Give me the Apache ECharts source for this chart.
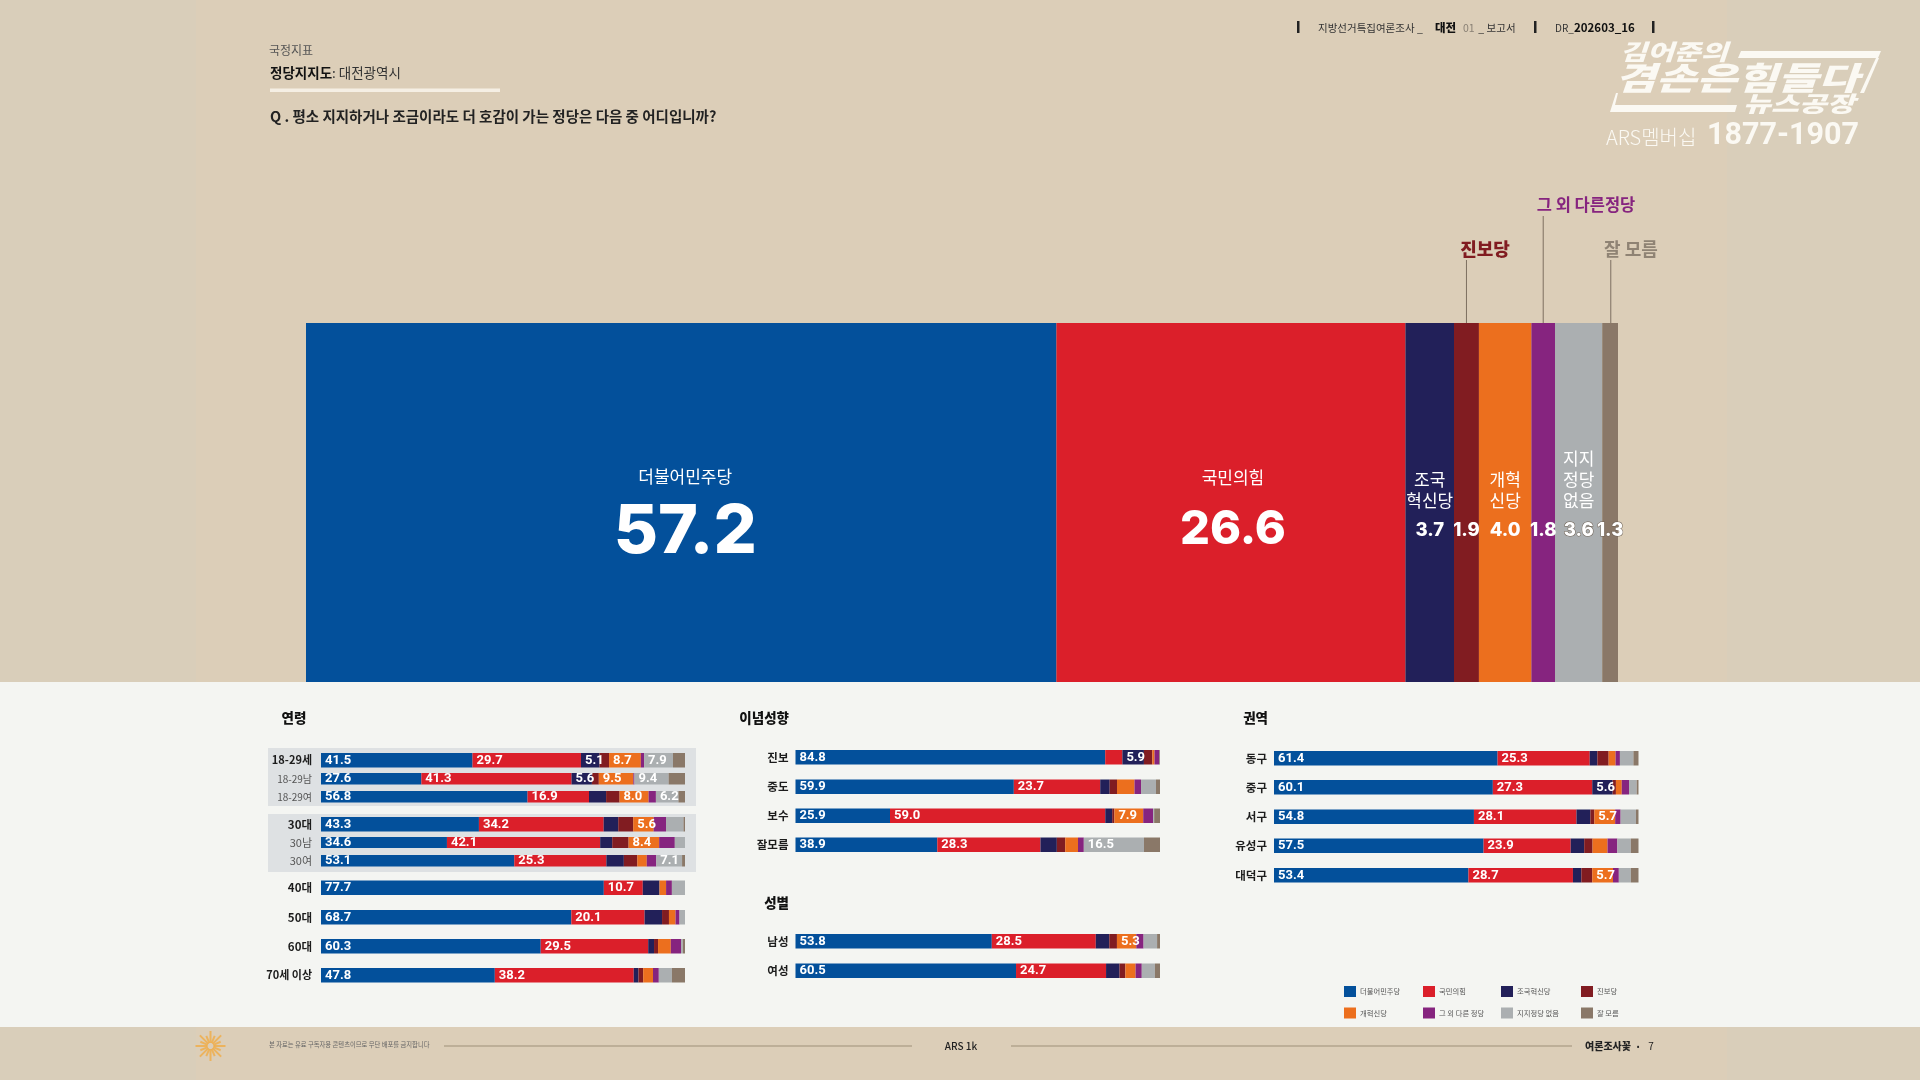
<!DOCTYPE html>
<html>
<head>
<meta charset="utf-8">
<script src="https://cdn.jsdelivr.net/npm/echarts@6/dist/echarts.min.js"></script>
<style>html,body{margin:0;padding:0;background:#DCCEB8}#c{width:1920px;height:1080px}</style>
</head>
<body>
<div id="c"></div>
<script>
// ---------- data ----------
const partyNames = ['더불어민주당','국민의힘','조국혁신당','진보당','개혁신당','그 외 다른 정당','지지정당 없음','잘 모름'];
const mainValues = [57.2,26.6,3.7,1.9,4.0,1.8,3.6,1.3];
const mainLabels = ['더불어민주당','국민의힘','조국\n혁신당','','개혁\n신당','','지지\n정당\n없음',''];

const ageCategories = ['18-29세','18-29남','18-29여','30대','30남','30여','40대','50대','60대','70세 이상'];
const ageValues = [
  [41.5,29.7,5.1,2.6,8.7,0.9,7.9,3.3],
  [27.6,41.3,5.6,1.9,9.5,0.3,9.4,4.5],
  [56.8,16.9,4.7,3.7,8.0,2.0,6.2,1.8],
  [43.3,34.2,4.0,4.1,5.6,3.4,4.8,0.4],
  [34.6,42.1,3.3,4.5,8.4,4.3,2.8,0],
  [53.1,25.3,4.8,3.7,2.6,2.6,7.1,0.8],
  [77.7,10.7,4.6,0,1.8,1.6,3.6,0],
  [68.7,20.1,4.8,1.9,1.8,1.1,1.5,0],
  [60.3,29.5,1.6,1.1,3.5,2.8,0.5,0.6],
  [47.8,38.2,1.3,1.3,2.7,1.6,3.6,3.6]
];
const ideologyCategories = ['진보','중도','보수','잘모름'];
const ideologyValues = [
  [84.8,4.7,5.9,2.3,0.6,1.3,0,0.2],
  [59.9,23.7,2.6,2.0,4.8,1.8,4.1,1.1],
  [25.9,59.0,1.9,0.6,7.9,2.7,0.3,1.6],
  [38.9,28.3,4.5,2.3,3.5,1.6,16.5,4.4]
];
const genderCategories = ['남성','여성'];
const genderValues = [
  [53.8,28.5,3.7,2.1,5.3,2.0,3.7,0.8],
  [60.5,24.7,3.7,1.6,2.8,1.7,3.6,1.4]
];
const regionCategories = ['동구','중구','서구','유성구','대덕구'];
const regionValues = [
  [61.4,25.3,2.1,3.1,1.9,1.2,3.7,1.4],
  [60.1,27.3,5.6,0.9,1.6,2.0,2.1,0.5],
  [54.8,28.1,3.8,1.1,5.7,1.5,4.2,0.7],
  [57.5,23.9,3.7,2.3,4.1,2.7,3.7,2.1],
  [53.4,28.7,2.3,3.0,5.7,1.6,3.3,2.1]
];

// ---------- styles & layout ----------
const FONT = '"Noto Sans CJK KR","Noto Sans",sans-serif';
const colors = ['#03509B','#DB1F2A','#222059','#811C21','#EC6F1E','#86247F','#ABAFB1','#8A7868'];
const rowGroups = [
  {cats:ageCategories, vals:ageValues, left:321, width:364, margin:9,
   tops:[753,773,791,817,837,855,880.5,910,939,968], heights:[14.5,11.5,11.5,14.5,11,11.5,14.5,14.5,14.5,14.5],
   minor:[1,2,4,5]},
  {cats:ideologyCategories, vals:ideologyValues, left:795.5, width:364.5, margin:7,
   tops:[750,779.5,808.5,837.5], heights:[14.5,14.5,14.5,14.5], minor:[]},
  {cats:genderCategories, vals:genderValues, left:795.5, width:364.5, margin:7,
   tops:[934,963.5], heights:[14.5,14.5], minor:[]},
  {cats:regionCategories, vals:regionValues, left:1274, width:364.5, margin:7,
   tops:[751,780,809.5,838.5,868], heights:[14.5,14.5,14.5,14.5,14.5], minor:[]}
];

const grids=[], xAxes=[], yAxes=[], series=[];
const sum = a => a.reduce((s,v)=>s+v,0);

// main bar
grids.push({left:306, top:323, width:1312, height:359});
xAxes.push({type:'value', gridIndex:0, min:0, max:100, show:false});
yAxes.push({type:'category', gridIndex:0, data:['대전광역시'], show:false});
const mainSize = [68,47,18.5,18.5,18.5,18.5,18.5,18.5];
const mainOffset = [4,2,0,0,0,0,0,0];
partyNames.forEach((name,p)=>{
  const big = p<2;
  series.push({
    name, type:'bar', stack:'main', xAxisIndex:0, yAxisIndex:0, barWidth:'100%',
    data:[mainValues[p]], itemStyle:{color:colors[p]}, silent:true, animation:false,
    label:{
      show:true, position:['50%', p===0?'70.2%':(p===1?'68.5%':'63%')], align:'center', verticalAlign:'bottom',
      offset:[mainOffset[p],0],
      formatter:()=> (mainLabels[p]?`{n|${mainLabels[p]}}\n`:'')+`{v|${mainValues[p].toFixed(1)}}`,
      rich:{
        n:{fontFamily:FONT,fontSize:17,color:'#fff',lineHeight:big?26:21,align:'center'},
        v:{fontFamily:'Inter,'+FONT,fontWeight:800,fontSize:mainSize[p],color:'#fff',
           lineHeight:p===0?85:(p===1?78:38),align:'center',
           textBorderColor:p>=6?'#6f6357':'transparent',textBorderWidth:p>=6?1:0}
      }
    }
  });
});

// small bars, one grid per row
rowGroups.forEach(g=>{
  g.cats.forEach((cat,r)=>{
    const idx = grids.length, minor = g.minor.includes(r), vals = g.vals[r];
    grids.push({left:g.left, top:g.tops[r], width:g.width, height:g.heights[r]});
    xAxes.push({type:'value', gridIndex:idx, min:0, max:sum(vals), show:false});
    yAxes.push({type:'category', gridIndex:idx, data:[cat],
      axisLine:{show:false}, axisTick:{show:false}, splitLine:{show:false},
      axisLabel:{margin:g.margin, fontFamily:FONT,
        fontSize:minor?(cat.length>4?10:11):(cat.length>4?11:11.5),
        fontWeight:minor?400:700, color:minor?'#555':'#1c1c1c'}});
    partyNames.forEach((name,p)=>{
      series.push({
        name, type:'bar', stack:'r'+idx, xAxisIndex:idx, yAxisIndex:idx, barWidth:'100%',
        data:[vals[p]], itemStyle:{color:colors[p]}, silent:true, animation:false,
        label:{show:vals[p]>=5, position:'insideLeft', distance:4, color:'#fff',
          fontFamily:'Roboto,'+FONT, fontSize:13, fontWeight:700,
          formatter:()=>vals[p].toFixed(1)}
      });
    });
  });
});

// legend columns
const legendCols = [[0,4,1344],[1,5,1423],[2,6,1501],[3,7,1581]];
const legends = legendCols.map(c=>({
  orient:'vertical', left:c[2], top:986, padding:0, itemWidth:12, itemHeight:11, itemGap:10.5,
  icon:'rect', selectedMode:false, data:[partyNames[c[0]],partyNames[c[1]]],
  textStyle:{fontFamily:FONT,fontSize:7.3,color:'#555',padding:[0,0,0,-1]}
}));

// ---------- page furniture ----------
const T=(text,x,y,size,fill,weight,align)=>({type:'text',silent:true,
  style:{text,x,y,fill,textAlign:align||'left',textVerticalAlign:'middle',
    font:`${weight||400} ${size}px ${FONT}`}});
const S=(text,x,y,size,sx,font)=>({type:'text',silent:true,x,y,scaleX:sx,
  style:{text,x:0,y:0,fill:'#FBF9F3',textAlign:'left',textVerticalAlign:'middle',font}});
const R=(x,y,w,h,fill)=>({type:'rect',silent:true,shape:{x,y,width:w,height:h},style:{fill}});
const L=(x1,y1,x2,y2,stroke,lw,opacity)=>({type:'line',silent:true,shape:{x1,y1,x2,y2},style:{stroke,lineWidth:lw,opacity:opacity==null?1:opacity}});
const P=(points,fill)=>({type:'polygon',silent:true,shape:{points},style:{fill}});
const logoItalic = s => `italic 900 ${s}px ${FONT}`;

const furniture=[
  R(0,0,196,1080,'#D9CEBA'),
  R(1727,0,193,1080,'#D9CEBA'),
  R(0,682,1920,345,'#F4F5F2'),
  R(268,748,428,58,'#DEE1E3'),
  R(268,814,428,58,'#DEE1E3'),
  T('국정지표',269,50,12,'#555'),
  T('정당지지도',270,73,13.5,'#111',700),
  T(': 대전광역시',332,73,13.5,'#333'),
  R(270,88.5,230,3.5,'#F5EFE4'),
  T('Q . 평소 지지하거나 조금이라도 더 호감이 가는 정당은 다음 중 어디입니까?',270,116,14.5,'#222',600),
  R(1297,21,2.5,12,'#222'),
  T('지방선거특집여론조사 _ ',1318,28,10.5,'#333'),
  T('대전',1435,28,11.5,'#111',900),
  T('01',1463,28,10.5,'#8a8175'),
  T(' _ 보고서',1476,28,10.5,'#333'),
  R(1534,21,2.5,12,'#222'),
  T('DR_',1555,28,10,'#333'),
  T('202603_16',1574,28,11.5,'#111',700),
  R(1652,21,2.5,12,'#222'),
  // logo
  S('김어준의',1620,52,22,1.33,logoItalic(22)),
  P([[1741,51],[1881,51],[1878,58],[1738,58]],'#FBF9F3'),
  P([[1876,58],[1879,58],[1864,93],[1860,93]],'#FBF9F3'),
  S('겸손은힘들다',1615,78,32,1.38,logoItalic(32)),
  S('뉴스공장',1743,104,22,1.38,logoItalic(22)),
  P([[1616,93],[1618,93],[1615,105],[1737,105],[1735,112],[1610,112]],'#FBF9F3'),
  T('ARS멤버십',1606,137,20,'#FBF9F3',300),
  S('1877-1907',1707,136,30.5,1,`700 30.5px Roboto,${FONT}`),
  // callouts text
  T('진보당',1485,249,18,'#811C21',800,'center'),
  T('그 외 다른정당',1586,205,16.5,'#86247F',700,'center'),
  T('잘 모름',1631,249,18,'#8F8374',700,'center'),
  // section headers
  T('연령',294,718,13.5,'#111',800,'center'),
  T('이념성향',789,718,13.5,'#111',800,'right'),
  T('성별',789,903,13.5,'#111',800,'right'),
  T('권역',1268,718,13.5,'#111',800,'right'),
  // footer
  T('본 자료는 유료 구독자용 콘텐츠이므로 무단 배포를 금지합니다',269,1045,6.3,'#666'),
  L(444,1046,912,1046,'#B3A48E',1.5),
  T('ARS 1k',961,1046,10,'#222',500,'center'),
  L(1011,1046,1572,1046,'#B3A48E',1.5),
  T('여론조사꽃',1585,1046,10,'#222',800),
  T('•',1638,1046,8,'#222',400,'center'),
  T('7',1651,1046,10,'#222',400,'center')
];
// footer flower
for(let i=0;i<16;i++){
  const a=i*Math.PI/8, r=i%2?11:15;
  furniture.push(L(210.5+3*Math.cos(a),1046+3*Math.sin(a),210.5+r*Math.cos(a),1046+r*Math.sin(a),'#F2A93F',2,0.75));
}

const chart = echarts.init(document.getElementById('c'),null,{renderer:'canvas'});
chart.setOption({
  backgroundColor:'#DCCEB8', animation:false,
  grid:grids, xAxis:xAxes, yAxis:yAxes, legend:legends, series,
  graphic:{elements:furniture.map((e,i)=>Object.assign({id:'f'+i},e))}
});

// leader lines placed through the main axis scale
const cumulative = i => sum(mainValues.slice(0,i))+mainValues[i]/2;
const leaderTargets = [[3,260],[5,216],[7,260]];
chart.setOption({graphic:{elements:leaderTargets.map(([i,top],k)=>{
  const x = chart.convertToPixel({xAxisIndex:0},cumulative(i));
  return Object.assign({id:'lead'+k},L(x,top,x,323,'#7d6f60',1));
})}});
</script>
</body>
</html>
